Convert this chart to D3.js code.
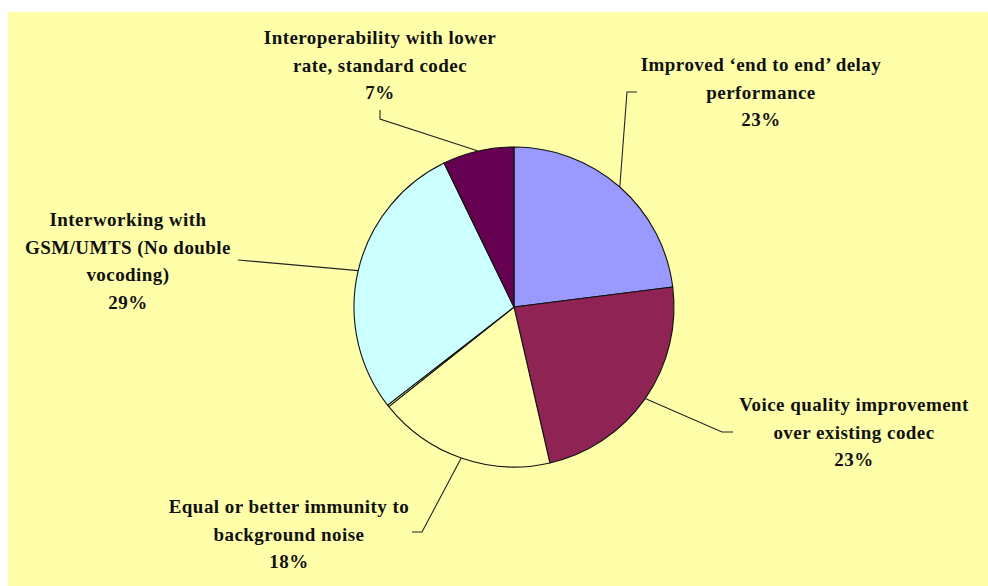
<!DOCTYPE html>
<html>
<head>
<meta charset="utf-8">
<script src="https://cdn.jsdelivr.net/npm/d3@7"></script>
<style>
    body { margin: 0; background: #ffffff; }
    svg text { font-family: "Liberation Serif", "Times New Roman", serif; font-weight: bold; font-size: 19px; letter-spacing: 0.45px; fill: #111; }
</style>
</head>
<body>
<svg id="chart_svg"></svg>
<script>
// slices, clockwise from 12 o'clock
const categories = [
    ["Improved \u2018end to end\u2019 delay", "performance"],
    ["Voice quality improvement", "over existing codec"],
    ["Equal or better immunity to", "background noise"],
    [],
    ["Interworking with", "GSM/UMTS (No double", "vocoding)"],
    ["Interoperability with lower", "rate, standard codec"]
];
const shares = [0.230, 0.234, 0.179, 0.002, 0.283, 0.072];
const pctLabels = ["23%", "23%", "18%", "", "29%", "7%"];
const colors = ["#9999ff", "#8f2454", "#ffffae", "#ffffae", "#ccffff", "#660050"];

// where each label block sits (centre x, centre of first line) and the elbow of its leader
const labelPos = [
    {x: 761, y: 65, elbow: [[627, 92], [637, 92]]},
    {x: 854, y: 405, elbow: [[722, 432], [733, 432]]},
    {x: 289, y: 507, elbow: [[422, 532], [412, 532]]},
    null,
    {x: 128, y: 220, elbow: [[238, 260]]},
    {x: 380, y: 38, elbow: [[380, 119], [380, 110]]}
];

const width = 988, height = 586;
const cx = 514, cy = 307, radius = 160;
const lineGap = 27.5;

const svg = d3.select("#chart_svg")
    .attr("width", width)
    .attr("height", height);

// plot area background
svg.append("rect")
    .attr("x", 8).attr("y", 12)
    .attr("width", width - 8).attr("height", height - 12)
    .attr("fill", "#ffffaa");

const pie = d3.pie().sort(null).value(d => d);
const arcs = pie(shares);
const arc = d3.arc().innerRadius(0).outerRadius(radius);

const g = svg.append("g").attr("transform", `translate(${cx}, ${cy})`);

g.selectAll("path.slice")
    .data(arcs)
    .enter()
    .append("path")
    .attr("class", "slice")
    .attr("d", arc)
    .attr("fill", (d, i) => colors[i])
    .attr("stroke", "#111")
    .attr("stroke-width", 1.1)
    .attr("stroke-linejoin", "round");

// leader lines from the rim at mid angle of each slice
arcs.forEach((d, i) => {
    const lp = labelPos[i];
    if (!lp) return;
    const mid = (d.startAngle + d.endAngle) / 2;
    const start = [cx + radius * Math.sin(mid), cy - radius * Math.cos(mid)];
    const pts = [start].concat(lp.elbow);
    svg.append("path")
        .attr("d", d3.line()(pts))
        .attr("fill", "none")
        .attr("stroke", "#222")
        .attr("stroke-width", 1.1);
});

// labels
categories.forEach((lines, i) => {
    const lp = labelPos[i];
    if (!lp) return;
    const all = lines.concat([pctLabels[i]]);
    const t = svg.append("text")
        .attr("text-anchor", "middle");
    all.forEach((s, k) => {
        t.append("tspan")
            .attr("x", lp.x)
            .attr("y", lp.y + k * lineGap + 6)
            .text(s);
    });
});
</script>
</body>
</html>
